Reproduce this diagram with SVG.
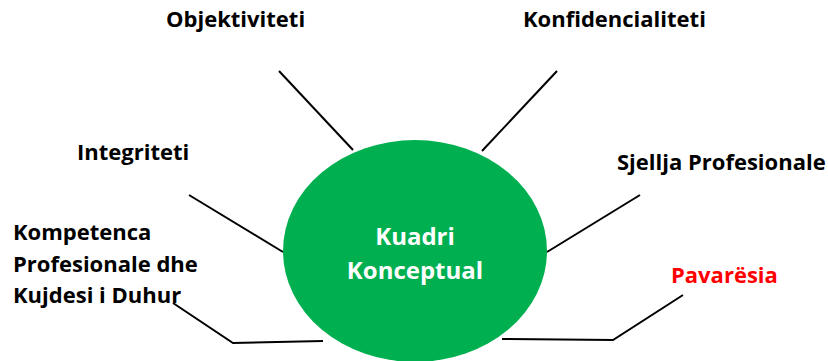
<svg xmlns="http://www.w3.org/2000/svg" width="828" height="361" viewBox="0 0 828 361">
<style>
.lbl{font-family:"Open Sans","Liberation Sans",sans-serif;font-weight:bold;font-size:22px;fill:#000}
.red{fill:#FF0000}
.ctr{font-family:"Open Sans","Liberation Sans",sans-serif;font-weight:bold;font-size:24px;fill:#fff}
.con{stroke:#000;stroke-width:2;fill:none}
</style>
<rect width="828" height="361" fill="#fff"/>
<g id="connectors">
<line class="con" x1="279" y1="71" x2="353" y2="150"/>
<line class="con" x1="557" y1="71" x2="482" y2="151"/>
<line class="con" x1="189" y1="195" x2="283" y2="252"/>
<line class="con" x1="640" y1="195" x2="547" y2="252"/>
<polyline class="con" points="173,303 233,343 323,341"/>
<polyline class="con" points="502,339 613,340 683,295"/>
</g>
<g id="center">
<ellipse cx="415" cy="251" rx="132" ry="111" fill="#00B050"/>
<text class="ctr" x="415" y="245" text-anchor="middle">Kuadri</text>
<text class="ctr" x="415" y="279" text-anchor="middle">Konceptual</text>
</g>
<g id="objektiviteti"><text class="lbl" x="166" y="27">Objektiviteti</text></g>
<g id="konfidencialiteti"><text class="lbl" x="523" y="27">Konfidencialiteti</text></g>
<g id="integriteti"><text class="lbl" x="77" y="160">Integriteti</text></g>
<g id="sjellja"><text class="lbl" x="617" y="170">Sjellja Profesionale</text></g>
<g id="kompetenca">
<text class="lbl" x="13" y="240">Kompetenca</text>
<text class="lbl" x="13" y="272">Profesionale dhe</text>
<text class="lbl" x="13" y="303">Kujdesi i Duhur</text>
</g>
<g id="pavaresia"><text class="lbl red" x="671" y="283">Pavarësia</text></g>
</svg>
